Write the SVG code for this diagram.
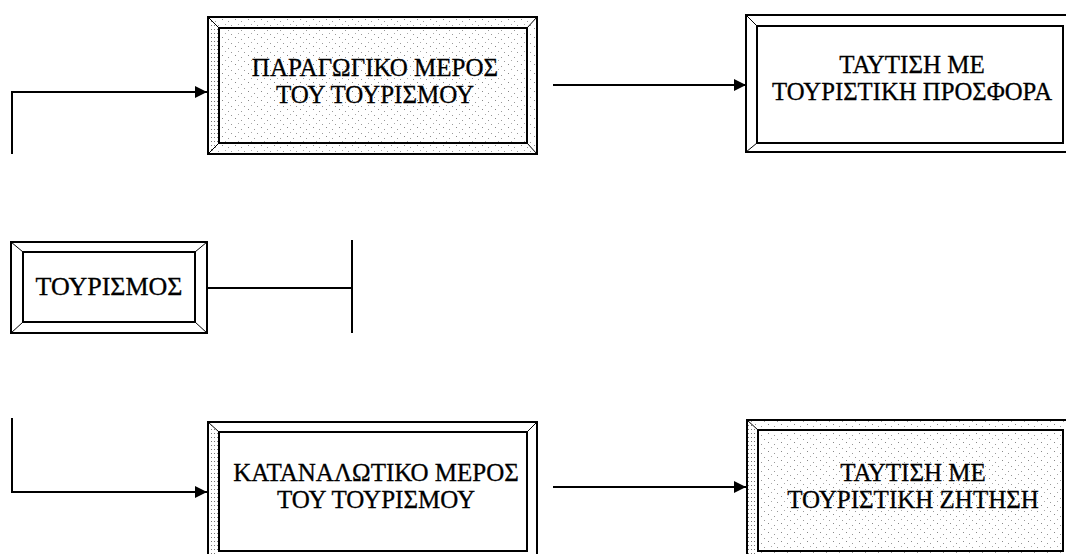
<svg xmlns="http://www.w3.org/2000/svg" width="1066" height="554" viewBox="0 0 1066 554">
<style>
.frame{fill:none;stroke:#000;stroke-width:2}
.bev{stroke:#000;stroke-width:1;fill:none}
.lbl{font-family:"Liberation Serif","Times New Roman",serif;font-size:25px;fill:#000;stroke:#000;stroke-width:0.3;text-anchor:middle}
.conn{fill:none;stroke:#000;stroke-width:2}
</style>
<defs>
<pattern id="stip" width="13" height="9" patternUnits="userSpaceOnUse">
<rect width="13" height="9" fill="#fff"/>
<rect x="1" y="1" width="1" height="1" fill="#888"/>
<rect x="7" y="3" width="1" height="1" fill="#999"/>
<rect x="4" y="6" width="1" height="1" fill="#aaa"/>
<rect x="10" y="7" width="1" height="1" fill="#999"/>
</pattern>
<pattern id="stipd" width="3" height="4" patternUnits="userSpaceOnUse">
<rect width="3" height="4" fill="#fff"/>
<rect x="1" y="1" width="1" height="1" fill="#777"/>
</pattern>
<marker id="ah" viewBox="0 0 12 12" refX="12" refY="6" markerWidth="12" markerHeight="12" markerUnits="userSpaceOnUse" orient="auto">
<path d="M0,0 L12,6 L0,12 Z" fill="#000"/>
</marker>
</defs>

<g id="connectors">
<polyline class="conn" points="12,154 12,92 207,92" marker-end="url(#ah)"/>
<line class="conn" x1="553" y1="85" x2="746" y2="85" marker-end="url(#ah)"/>
<polyline class="conn" points="12,418 12,492 207,492" marker-end="url(#ah)"/>
<line class="conn" x1="553" y1="487" x2="746" y2="487" marker-end="url(#ah)"/>
<line class="conn" x1="208" y1="288" x2="352" y2="288"/>
<line class="conn" x1="352" y1="240" x2="352" y2="333"/>
</g>

<g id="node-paragogiko">
<rect x="208" y="17" width="329" height="137" fill="url(#stip)"/>
<path d="M208,17 L219,28 L219,143 L208,154 Z" fill="url(#stipd)"/>
<rect class="frame" x="208" y="17" width="329" height="137"/>
<rect class="frame" x="219" y="28" width="308" height="115"/>
<path class="bev" d="M208,17 L219,28 M537,17 L527,28 M208,154 L219,143 M537,154 L527,143"/>
<text class="lbl"><tspan x="375" y="76">ΠΑΡΑΓΩΓΙΚΟ ΜΕΡΟΣ</tspan><tspan x="375" y="103">ΤΟΥ ΤΟΥΡΙΣΜΟΥ</tspan></text>
</g>

<g id="node-prosfora">
<rect x="746" y="15" width="324" height="137" fill="#fff"/>
<rect class="frame" x="746" y="15" width="324" height="137"/>
<rect class="frame" x="757" y="26" width="306" height="117"/>
<path class="bev" d="M746,15 L757,26 M746,152 L757,143"/>
<text class="lbl" x="912" y="73">ΤΑΥΤΙΣΗ ΜΕ</text>
<text class="lbl" x="912" y="100" textLength="280" lengthAdjust="spacingAndGlyphs">ΤΟΥΡΙΣΤΙΚΗ ΠΡΟΣΦΟΡΑ</text>
</g>

<g id="node-tourismos">
<rect x="11" y="242" width="196" height="91" fill="#fff"/>
<rect class="frame" x="11" y="242" width="196" height="91"/>
<rect class="frame" x="23" y="252" width="172" height="70"/>
<path class="bev" d="M11,242 L23,252 M207,242 L195,252 M11,333 L23,322 M207,333 L195,322"/>
<text class="lbl" x="109" y="295" textLength="147" lengthAdjust="spacingAndGlyphs">ΤΟΥΡΙΣΜΟΣ</text>
</g>

<g id="node-katanalotiko">
<rect x="208" y="422" width="329" height="140" fill="#fff"/>
<path d="M208,422 L219,432 L219,551 L208,562 Z" fill="url(#stipd)"/>
<rect class="frame" x="208" y="422" width="329" height="140"/>
<rect class="frame" x="219" y="432" width="308" height="119"/>
<path class="bev" d="M208,422 L219,432 M537,422 L527,432"/>
<text class="lbl"><tspan x="376" y="481">ΚΑΤΑΝΑΛΩΤΙΚΟ ΜΕΡΟΣ</tspan><tspan x="376" y="508">ΤΟΥ ΤΟΥΡΙΣΜΟΥ</tspan></text>
</g>

<g id="node-zitisi">
<rect x="747" y="420" width="323" height="142" fill="url(#stip)"/>
<path d="M747,420 L758,430 L758,551 L747,562 Z" fill="url(#stipd)"/>
<rect class="frame" x="747" y="420" width="323" height="142"/>
<rect class="frame" x="758" y="430" width="305" height="121"/>
<path class="bev" d="M747,420 L758,430"/>
<text class="lbl"><tspan x="913" y="481">ΤΑΥΤΙΣΗ ΜΕ</tspan><tspan x="913" y="508">ΤΟΥΡΙΣΤΙΚΗ ΖΗΤΗΣΗ</tspan></text>
</g>
</svg>
